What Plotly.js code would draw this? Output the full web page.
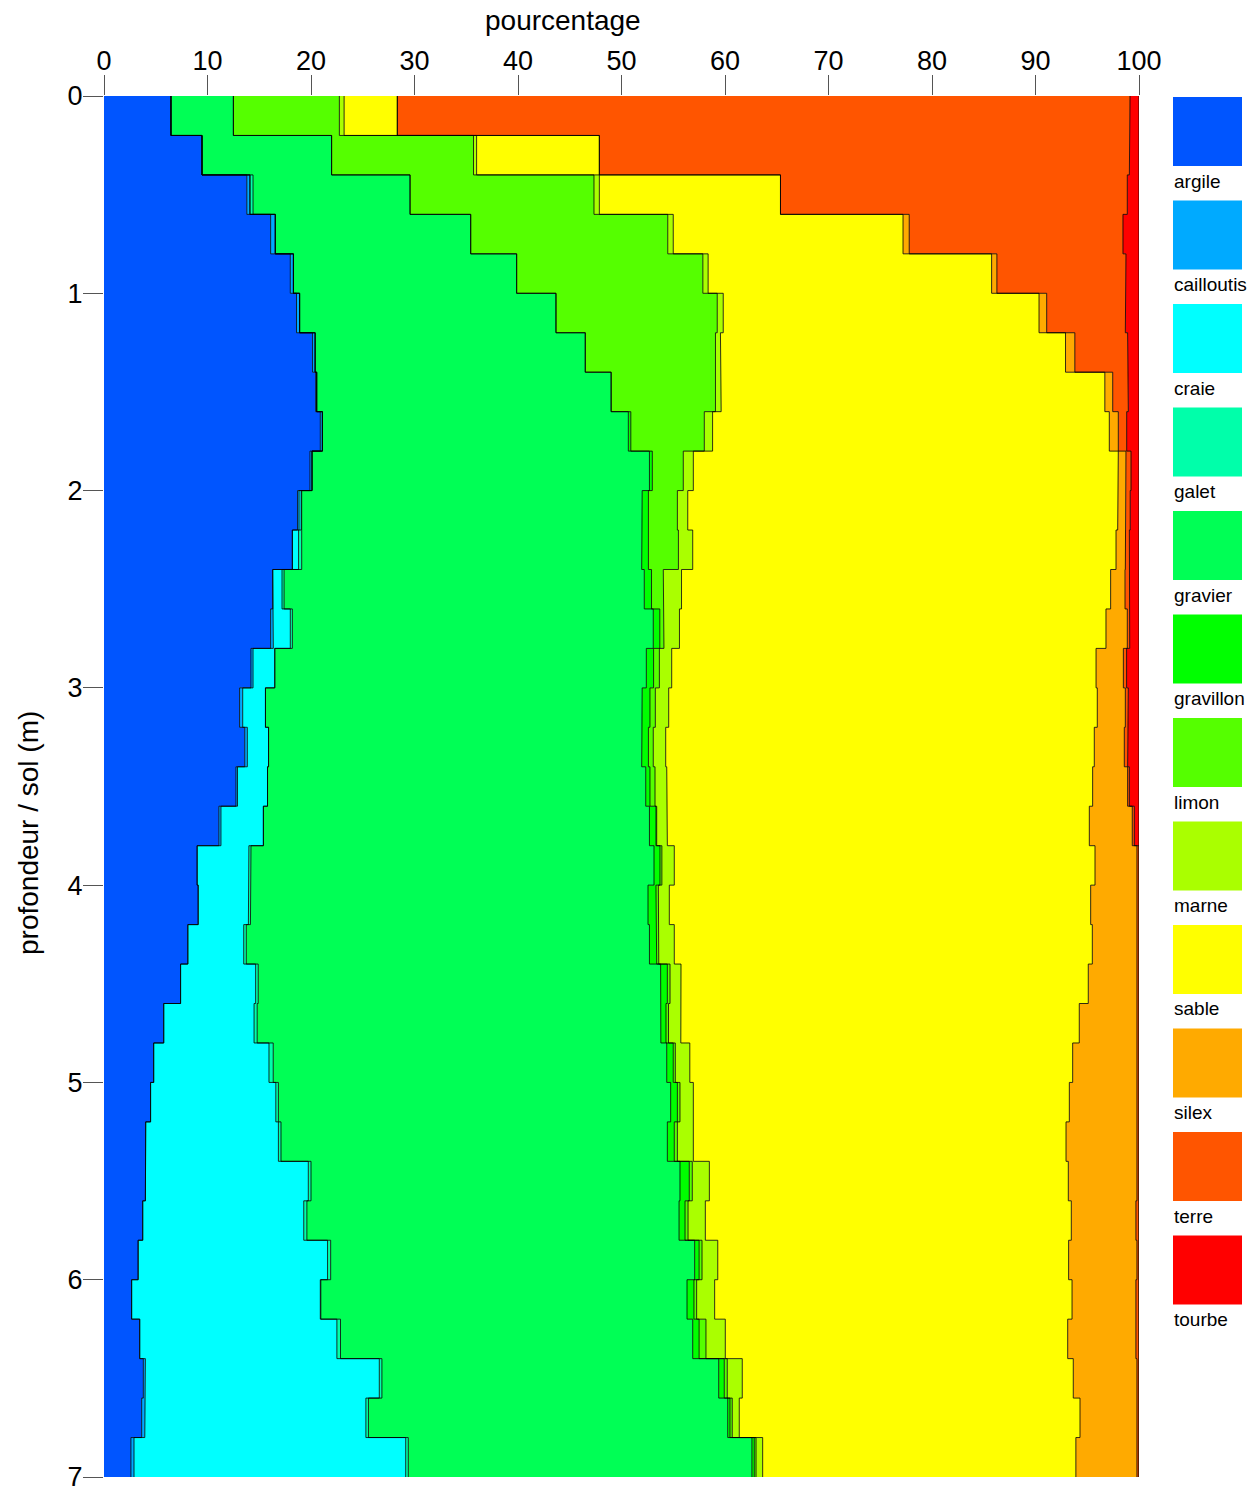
<!DOCTYPE html>
<html><head><meta charset="utf-8">
<script src="https://cdn.plot.ly/plotly-3.0.1.min.js"></script>
<style>body{margin:0;background:#fff}#chart{width:1256px;height:1490px}</style>
</head><body><div id="chart"></div>
<script>
const classes = ['argile','cailloutis','craie','galet','gravier','gravillon','limon','marne','sable','silex','terre','tourbe'];
const colors = ['#0055FF','#00AAFF','#00FFFF','#00FFAA','#00FF55','#00FF00','#55FF00','#AAFF00','#FFFF00','#FFAA00','#FF5500','#FF0000'];
const depthTop = [0,0.2,0.4,0.6,0.8,1.0,1.2,1.4,1.6,1.8,2.0,2.2,2.4,2.6,2.8,3.0,3.2,3.4,3.6,3.8,4.0,4.2,4.4,4.6,4.8,5.0,5.2,5.4,5.6,5.8,6.0,6.2,6.4,6.6,6.8];
const depthBottom = [0.2,0.4,0.6,0.8,1.0,1.2,1.4,1.6,1.8,2.0,2.2,2.4,2.6,2.8,3.0,3.2,3.4,3.6,3.8,4.0,4.2,4.4,4.6,4.8,5.0,5.2,5.4,5.6,5.8,6.0,6.2,6.4,6.6,6.8,7.0];
const xTicks = [0,10,20,30,40,50,60,70,80,90,100];
const yTicks = [0,1,2,3,4,5,6,7];

const argile = [6.47,9.47,13.8,16.1,18.0,18.6,20.15,20.45,20.9,19.9,18.7,18.2,16.3,16.1,14.2,13.1,13.6,12.75,11.1,9.0,9.1,8.1,7.4,5.77,4.8,4.5,4.03,4.0,3.74,3.3,2.67,3.45,3.8,3.64,2.6];
const cailloutis = [0,0,0.3,0.45,0.3,0.3,0.25,0.1,0.2,0.2,0.15,0,0,0.26,0.2,0.3,0.25,0.15,0.2,0,0,0,0,0,0,0,0,0,0,0,0,0,0.2,0.3,0.3];
const craie = [0,0,0,0,0,0,0,0,0,0,0.2,0.6,0.9,1.64,2.1,2.2,2.05,2.9,4.1,5.0,4.85,5.4,7.25,8.73,11.14,12.1,12.82,15.74,15.56,18.3,18.23,19.05,22.6,21.36,26.25];
const galet = [0,0,0.3,0,0,0,0,0,0,0,0.05,0.3,0.2,0.2,0,0,0,0,0,0.2,0.2,0.25,0.25,0.3,0.41,0.25,0.25,0.26,0.3,0.3,0.05,0.35,0.25,0.25,0.25];
const gravier = [6.03,12.52,15.17,18.88,21.57,24.77,26.1,28.45,29.56,32.6,32.9,32.85,34.8,34.87,35.9,36.4,36.05,36.54,37.3,38.94,38.41,38.95,38.88,39.0,38.02,37.9,37.33,35.65,35.96,35.17,35.38,34.03,32.54,34.71,33.2];
const gravillon = [0,0,0,0,0,0,0,0,0.24,0.28,0.6,0.65,0.7,0.63,0.7,0.75,0.65,0.41,0.63,0.58,0.77,0.7,0.65,0.5,0.63,0.65,0.67,0.9,0.58,0.43,0.67,0.62,0.54,0.22,0.23];
const limon = [10.24,13.71,17.77,19.04,17.99,15.58,12.58,10.08,7.1,2.99,2.8,2.9,1.14,0.4,0.56,0.52,0.47,0.49,0.07,0.18,0.23,0.2,0.26,0.24,0.2,0.25,0.3,0.29,0.29,0.28,0.26,0.66,0.29,0.22,0.17];
const marne = [0.46,0.3,0.52,0.53,0.51,0.58,0.48,0.55,0.8,0.97,1.0,1.38,1.76,1.5,1.19,1.29,1.2,1.13,1.03,1.2,1.06,1.5,1.06,1.19,1.4,1.29,1.54,1.65,1.67,1.52,1.74,1.87,1.45,0.68,0.64];
const sable = [5.14,11.86,17.5,22.2,27.39,30.51,33.34,37.07,38.33,41.06,41.54,40.9,41.46,41.21,41.0,41.41,41.41,41.15,40.77,40.65,40.71,40.39,39.35,38.5,36.99,36.33,36.01,34.68,35.36,33.9,34.53,33.08,31.98,32.92,30.26];
const silex = [0,0,0,0.6,0.51,0.74,0.9,0.76,0.87,0.74,0.8,0.9,1.39,2.06,2.64,2.71,2.9,3.38,4.15,4.05,4.47,4.31,4.7,5.57,6.21,6.53,6.85,6.63,6.24,6.6,6.17,6.59,6.15,5.5,5.9];
const terre = [70.79,51.21,33.51,20.65,12.47,7.6,5.1,1.51,0.81,0.49,0.41,0.39,0.42,0.23,0.31,0.29,0.32,0.17,0.2,0.2,0.2,0.2,0.2,0.2,0.2,0.2,0.2,0.2,0.3,0.2,0.3,0.3,0.2,0.2,0.2];
const tourbe = [0.87,0.93,1.13,1.55,1.26,1.32,1.1,1.03,1.19,0.77,0.85,0.93,0.93,0.9,1.2,1.03,1.1,0.93,0.45,0,0,0,0,0,0,0,0,0,0,0,0,0,0,0,0];

const series = [argile,cailloutis,craie,galet,gravier,gravillon,limon,marne,sable,silex,terre,tourbe];
const n = depthTop.length;

// cumulative boundaries
const bounds = [];
let run = new Array(n).fill(0);
bounds.push(run.slice());
series.forEach(s => { run = run.map((v,i) => v + s[i]); bounds.push(run.slice()); });

const traces = [];
// filled step polygons
series.forEach((s,k) => {
  const L = bounds[k], R = bounds[k+1];
  const xs = [], ys = [];
  for (let i = 0; i < n; i++) { xs.push(R[i], R[i]); ys.push(depthTop[i], depthBottom[i]); }
  for (let i = n-1; i >= 0; i--) { xs.push(L[i], L[i]); ys.push(depthBottom[i], depthTop[i]); }
  traces.push({type:'scatter', mode:'lines', x:xs, y:ys, fill:'toself', fillcolor:colors[k],
    line:{width:0, color:colors[k]}, name:classes[k], hoverinfo:'name', showlegend:false});
});
// outlines along each boundary
for (let k = 1; k <= series.length; k++) {
  const B = bounds[k];
  const xs = [], ys = [];
  for (let i = 0; i < n; i++) { xs.push(B[i], B[i]); ys.push(depthTop[i], depthBottom[i]); }
  traces.push({type:'scatter', mode:'lines', x:xs, y:ys, line:{width:1, color:'rgba(0,0,0,0.8)'},
    hoverinfo:'skip', showlegend:false});
}

const FONT = 'Liberation Sans, Arial, Helvetica, sans-serif';
const W = 1256, H = 1490;
const plotL = 104, plotR = 1139, plotT = 96, plotB = 1477;
const px2x = px => (px - plotL) / (plotR - plotL);
const py2y = py => (plotB - py) / (plotB - plotT);

const shapes = [], annotations = [];
classes.forEach((c,k) => {
  const top = 97 + 103.5 * k;
  shapes.push({type:'rect', xref:'paper', yref:'paper', x0:px2x(1173), x1:px2x(1242),
    y0:py2y(top+69), y1:py2y(top), fillcolor:colors[k], line:{width:0}});
  annotations.push({xref:'paper', yref:'paper', x:px2x(1172), y:py2y(top+84), xanchor:'left', yanchor:'middle',
    text:c, showarrow:false, font:{family:FONT, size:19, color:'#000'}});
});
annotations.push({xref:'paper', yref:'paper', x:px2x(563), y:py2y(20), xanchor:'center', yanchor:'middle',
  text:'pourcentage', showarrow:false, font:{family:FONT, size:28, color:'#000'}});
annotations.push({xref:'paper', yref:'paper', x:px2x(28), y:py2y(833), xanchor:'center', yanchor:'middle',
  text:'profondeur / sol (m)', textangle:-90, showarrow:false, font:{family:FONT, size:28, color:'#000'}});

const layout = {
  width:W, height:H,
  margin:{l:plotL, r:W-plotR, t:plotT, b:H-plotB, pad:0},
  paper_bgcolor:'#fff', plot_bgcolor:'#fff', showlegend:false,
  xaxis:{range:[0,100], side:'top', tickmode:'array', tickvals:xTicks, ticktext:xTicks.map(String),
    ticks:'outside', ticklen:20, tickwidth:1, tickcolor:'#555', showgrid:false, zeroline:false, showline:false,
    ticklabelstandoff:-6, ticklabeloverflow:'allow',
    tickfont:{family:FONT, size:27, color:'#000'}, fixedrange:true},
  yaxis:{range:[7,0], tickmode:'array', tickvals:yTicks, ticktext:yTicks.map(String),
    ticks:'outside', ticklen:20, tickwidth:1, tickcolor:'#555', showgrid:false, zeroline:false, showline:false,
    ticklabelstandoff:-5, ticklabeloverflow:'allow',
    tickfont:{family:FONT, size:27, color:'#000'}, fixedrange:true},
  shapes:shapes, annotations:annotations
};
Plotly.newPlot('chart', traces, layout, {displayModeBar:false, staticPlot:true});
</script></body></html>
